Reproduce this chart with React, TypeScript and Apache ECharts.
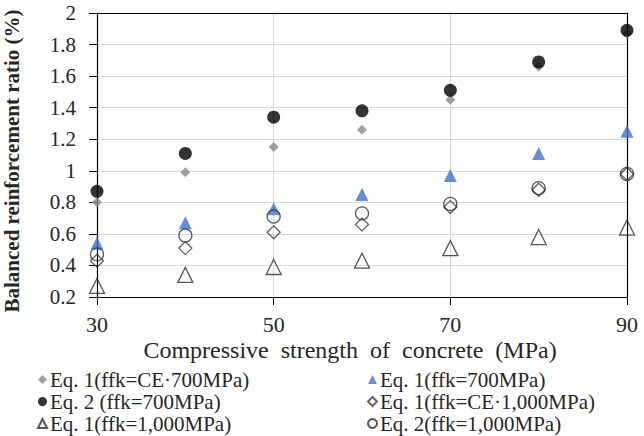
import React, { useEffect, useRef } from "react";
import * as echarts from "echarts";

// Concrete compressive strength (MPa)
const strength = [30, 40, 50, 60, 70, 80, 90];

// Balanced reinforcement ratio (%) per method
const eq1CE700 = [0.8, 0.99, 1.15, 1.26, 1.45, 1.66, 1.87];
const eq1_700 = [0.54, 0.67, 0.76, 0.85, 0.97, 1.11, 1.25];
const eq2_700 = [0.87, 1.11, 1.34, 1.38, 1.51, 1.69, 1.89];
const eq1CE1000 = [0.43, 0.51, 0.61, 0.66, 0.77, 0.88, 0.98];
const eq1_1000 = [0.27, 0.34, 0.39, 0.43, 0.51, 0.58, 0.64];
const eq2_1000 = [0.47, 0.59, 0.71, 0.73, 0.79, 0.89, 0.98];

const names = [
  "Eq. 1(ffk=CE·700MPa)",
  "Eq. 1(ffk=700MPa)",
  "Eq. 2 (ffk=700MPa)",
  "Eq. 1(ffk=CE·1,000MPa)",
  "Eq. 1(ffk=1,000MPa)",
  "Eq. 2(ffk=1,000MPa)",
];

const SERIF = "Liberation Serif";

const pairs = (ys: number[]) => strength.map((x, i) => [x, ys[i]]);

export default function App() {
  const ref = useRef<HTMLDivElement>(null);

  useEffect(() => {
    if (!ref.current) return;
    const chart = echarts.init(ref.current, undefined, { renderer: "svg" });

    const open = (c: string) => ({ color: "rgba(0,0,0,0)", borderColor: c, borderWidth: 1.3 });

    const legendBase = {
      orient: "vertical" as const,
      itemWidth: 9,
      itemHeight: 9,
      itemGap: 1,
      padding: 0,
      textStyle: { fontFamily: SERIF, fontSize: 21, color: "#262626", padding: [0, 0, 0, -2] },
    };

    chart.setOption({
      animation: false,
      backgroundColor: "#ffffff",
      textStyle: { fontFamily: SERIF },
      grid: { left: 97, right: 17, top: 13, bottom: 139 },
      legend: [
        { ...legendBase, left: 37, top: 369, data: [names[0], names[2], names[4]] },
        { ...legendBase, left: 367, top: 369, data: [names[1], names[3], names[5]] },
      ],
      xAxis: [
        {
          type: "value",
          min: 30,
          max: 90,
          interval: 20,
          axisLine: { lineStyle: { color: "#000", width: 1.2 } },
          axisTick: { show: true, length: 8, lineStyle: { color: "#000" } },
          axisLabel: { fontFamily: SERIF, fontSize: 22, color: "#262626", margin: 16 },
          splitLine: { show: true, lineStyle: { color: "#d9d9d9", width: 1 } },
        },
        {
          type: "value",
          position: "top",
          min: 30,
          max: 90,
          interval: 20,
          axisLine: { show: true, lineStyle: { color: "#000", width: 1.2 } },
          axisTick: { show: false },
          axisLabel: { show: false },
          splitLine: { show: false },
        },
      ],
      yAxis: [
        {
          type: "value",
          min: 0.2,
          max: 2,
          interval: 0.2,
          axisLine: { show: true, lineStyle: { color: "#000", width: 1.2 } },
          axisTick: { show: true, length: 8, lineStyle: { color: "#000" } },
          axisLabel: { fontFamily: SERIF, fontSize: 21, color: "#262626", margin: 21 },
          splitLine: { show: true, lineStyle: { color: "#d9d9d9", width: 1 } },
        },
        {
          type: "value",
          position: "right",
          min: 0.2,
          max: 2,
          interval: 0.2,
          axisLine: { show: true, lineStyle: { color: "#000", width: 1.2 } },
          axisTick: { show: false },
          axisLabel: { show: false },
          splitLine: { show: false },
        },
      ],
      graphic: [
        {
          type: "text",
          x: 350,
          y: 350,
          style: {
            text: "Compressive  strength  of  concrete  (MPa)",
            fontFamily: SERIF,
            fontSize: 24,
            fill: "#262626",
            textAlign: "center",
            textVerticalAlign: "middle",
          },
        },
        {
          type: "text",
          x: 12,
          y: 161,
          rotation: Math.PI / 2,
          style: {
            text: "Balanced reinforcement ratio (%)",
            fontFamily: SERIF,
            fontSize: 21,
            fontWeight: "bold",
            fill: "#262626",
            textAlign: "center",
            textVerticalAlign: "middle",
          },
        },
      ],
      series: [
        {
          name: names[0],
          type: "scatter",
          symbol: "diamond",
          symbolSize: 10,
          itemStyle: { color: "#8a8a8a" },
          data: pairs(eq1CE700),
        },
        {
          name: names[1],
          type: "scatter",
          symbol: "triangle",
          symbolSize: 13,
          itemStyle: { color: "#4472c4" },
          data: pairs(eq1_700),
        },
        {
          name: names[2],
          type: "scatter",
          symbol: "circle",
          symbolSize: 13,
          itemStyle: { color: "#000000" },
          data: pairs(eq2_700),
        },
        {
          name: names[3],
          type: "scatter",
          symbol: "diamond",
          symbolSize: 13,
          itemStyle: open("#3a3a3a"),
          data: pairs(eq1CE1000),
        },
        {
          name: names[4],
          type: "scatter",
          symbol: "triangle",
          symbolSize: 15,
          itemStyle: open("#2a2a2a"),
          data: pairs(eq1_1000),
        },
        {
          name: names[5],
          type: "scatter",
          symbol: "circle",
          symbolSize: 13,
          itemStyle: open("#2a2a2a"),
          data: pairs(eq2_1000),
        },
      ],
    });

    return () => chart.dispose();
  }, []);

  return (
    <div
      ref={ref}
      style={{ width: 644, height: 436, position: "absolute", left: 0, top: 0, fontFamily: SERIF }}
    />
  );
}
